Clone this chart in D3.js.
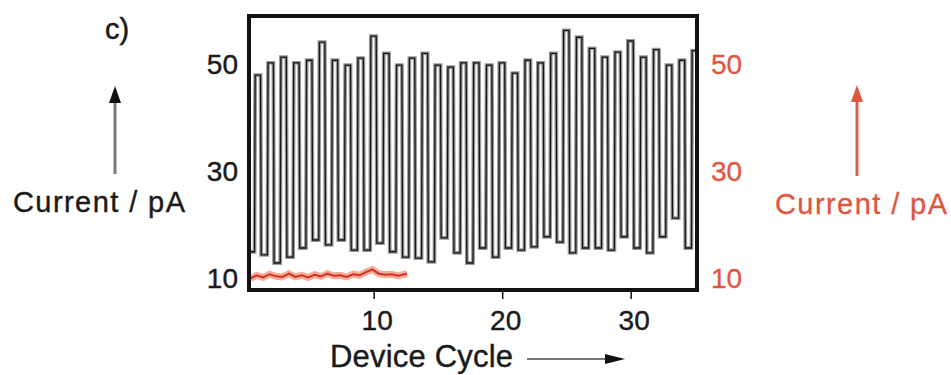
<!DOCTYPE html>
<html>
<head>
<meta charset="utf-8">
<script src="https://cdn.jsdelivr.net/npm/d3@7"></script>
<style>
  body { margin: 0; background: #fff; }
  svg { display: block; font-family: "Liberation Sans", Arial, sans-serif; }
</style>
</head>
<body>
<script>
// peak (ON) current of each device cycle, pA
const highCurrent = [48.0, 50.3, 51.4, 50.3, 50.8, 54.2, 50.8, 49.9, 51.2, 55.3,
                     52.1, 49.9, 51.2, 52.1, 49.9, 49.5, 50.3, 50.3, 49.9, 50.3,
                     48.4, 50.8, 50.3, 52.1, 56.4, 55.1, 53.0, 51.4, 52.3, 54.4,
                     51.4, 52.8, 49.9, 50.8, 52.6];
// OFF current: before cycle 1, then after each cycle
const lowCurrent = [15.0, 14.4, 12.9, 14.0, 15.7, 17.2, 16.3, 17.2, 15.3, 15.3,
                    16.6, 15.0, 14.0, 13.8, 13.1, 17.6, 14.8, 12.9, 15.7, 14.0,
                    15.7, 15.3, 15.9, 17.8, 16.8, 14.8, 15.7, 15.7, 15.3, 17.8,
                    15.7, 14.8, 17.8, 21.3, 15.7, 15.0];
// red (reference) trace
const refCycle = [0.4, 0.9, 1.4, 1.9, 2.4, 2.9, 3.4, 3.9, 4.4, 4.9, 5.4, 5.9, 6.4,
                  6.9, 7.4, 7.9, 8.4, 8.9, 9.4, 9.9, 10.4, 10.9, 11.4, 11.9, 12.6];
const refCurrent = [10.0, 10.6, 10.2, 10.8, 10.4, 10.3, 10.9, 10.3, 10.6, 10.2, 10.7, 10.4, 10.9,
                    10.5, 10.6, 10.3, 10.8, 10.6, 11.2, 11.7, 10.9, 10.7, 10.8, 10.5, 10.9];
const xTicks = [10, 20, 30];
const yTicks = [10, 30, 50];

const W = 951, H = 375;
const plot = { left: 249, right: 697, top: 16, bottom: 290 };
const RED = "#e25540";
const INK = "#1a1a1a";

const svg = d3.select("body").append("svg")
    .attr("width", W)
    .attr("height", H);

const x = d3.scaleLinear().domain([0.3, 35.16]).range([plot.left, plot.right]);
const y = d3.scaleLinear().domain([7.85, 59.07]).range([plot.bottom, plot.top]);

svg.append("defs").append("clipPath")
    .attr("id", "clip")
    .append("rect")
    .attr("x", plot.left)
    .attr("y", plot.top)
    .attr("width", plot.right - plot.left)
    .attr("height", plot.bottom - plot.top);

// square wave: low -> rise -> high -> fall
const wave = [[0.3, lowCurrent[0]]];
highCurrent.forEach((h, i) => {
    const k = i + 1;
    wave.push([k - 0.27, lowCurrent[i]]);
    wave.push([k - 0.22, h]);
    wave.push([k + 0.2, h]);
    wave.push([k + 0.25, lowCurrent[i + 1]]);
});
wave.push([35.8, lowCurrent[lowCurrent.length - 1]]);

const line = d3.line().x(d => x(d[0])).y(d => y(d[1]));

const g = svg.append("g").attr("clip-path", "url(#clip)");
g.append("path")
    .datum(wave)
    .attr("fill", "none")
    .attr("stroke", "#9a9a9a")
    .attr("stroke-width", 3.8)
    .attr("d", line);
g.append("path")
    .datum(wave)
    .attr("fill", "none")
    .attr("stroke", "#151515")
    .attr("stroke-width", 1.3)
    .attr("d", line);

const ref = refCycle.map((c, i) => [c, refCurrent[i]]);
g.append("path")
    .datum(ref)
    .attr("fill", "none")
    .attr("stroke", "#f4b09a")
    .attr("stroke-width", 7)
    .attr("d", line);
g.append("path")
    .datum(ref)
    .attr("fill", "none")
    .attr("stroke", "#d4302a")
    .attr("stroke-width", 2)
    .attr("d", line);

// frame
svg.append("rect")
    .attr("x", plot.left)
    .attr("y", plot.top)
    .attr("width", plot.right - plot.left)
    .attr("height", plot.bottom - plot.top)
    .attr("fill", "none")
    .attr("stroke", "#111")
    .attr("stroke-width", 4);

// axes
const xAxis = svg.append("g")
    .attr("transform", `translate(0, ${plot.bottom})`)
    .call(d3.axisBottom(x).tickValues(xTicks).tickSize(9).tickPadding(11));
xAxis.select(".domain").remove();
xAxis.selectAll("line").attr("stroke", "#111").attr("stroke-width", 1.5);
xAxis.selectAll("text").attr("font-size", 28).attr("fill", INK).attr("dx", 3)
    .attr("stroke", INK).attr("stroke-width", 0.4)
    .attr("font-family", "Liberation Sans, Arial, sans-serif");

const yLeft = svg.append("g")
    .attr("transform", `translate(${plot.left}, 0)`)
    .call(d3.axisLeft(y).tickValues(yTicks).tickSize(0).tickPadding(11));
yLeft.select(".domain").remove();
yLeft.selectAll("text").attr("font-size", 28).attr("fill", INK)
    .attr("stroke", INK).attr("stroke-width", 0.4)
    .attr("font-family", "Liberation Sans, Arial, sans-serif");

const yRight = svg.append("g")
    .attr("transform", `translate(${plot.right}, 0)`)
    .call(d3.axisRight(y).tickValues(yTicks).tickSize(0).tickPadding(14));
yRight.select(".domain").remove();
yRight.selectAll("text").attr("font-size", 28).attr("fill", RED)
    .attr("stroke", RED).attr("stroke-width", 0.3)
    .attr("font-family", "Liberation Sans, Arial, sans-serif");

// labels
svg.append("text").attr("x", 105).attr("y", 39).attr("font-size", 29)
    .attr("fill", INK).attr("stroke", INK).attr("stroke-width", 0.5).text("c)");

svg.append("text").attr("x", 13).attr("y", 212).attr("font-size", 29)
    .attr("textLength", 172).attr("lengthAdjust", "spacing")
    .attr("fill", INK).attr("stroke", INK).attr("stroke-width", 0.4).text("Current / pA");

svg.append("text").attr("x", 775).attr("y", 214).attr("font-size", 29)
    .attr("textLength", 172).attr("lengthAdjust", "spacing")
    .attr("fill", RED).attr("stroke", RED).attr("stroke-width", 0.3).text("Current / pA");

svg.append("text").attr("x", 330).attr("y", 367).attr("font-size", 31)
    .attr("textLength", 183).attr("lengthAdjust", "spacing")
    .attr("fill", INK).attr("stroke", INK).attr("stroke-width", 0.4).text("Device Cycle");

// arrows
function vArrow(cx, yTip, yEnd, lineColor, headColor) {
    svg.append("line").attr("x1", cx).attr("x2", cx).attr("y1", yEnd).attr("y2", yTip + 12)
        .attr("stroke", lineColor).attr("stroke-width", 3);
    svg.append("path")
        .attr("d", `M${cx},${yTip} L${cx - 6},${yTip + 17} L${cx + 6},${yTip + 17} Z`)
        .attr("fill", headColor);
}
vArrow(115, 86, 174, "#7a7a7a", "#111");
vArrow(857, 85, 176, "#d06050", RED);

svg.append("line").attr("x1", 527).attr("x2", 610).attr("y1", 359).attr("y2", 359)
    .attr("stroke", "#777").attr("stroke-width", 2);
svg.append("path").attr("d", "M625,359 L605,354 L605,364 Z").attr("fill", "#111");
</script>
</body>
</html>
